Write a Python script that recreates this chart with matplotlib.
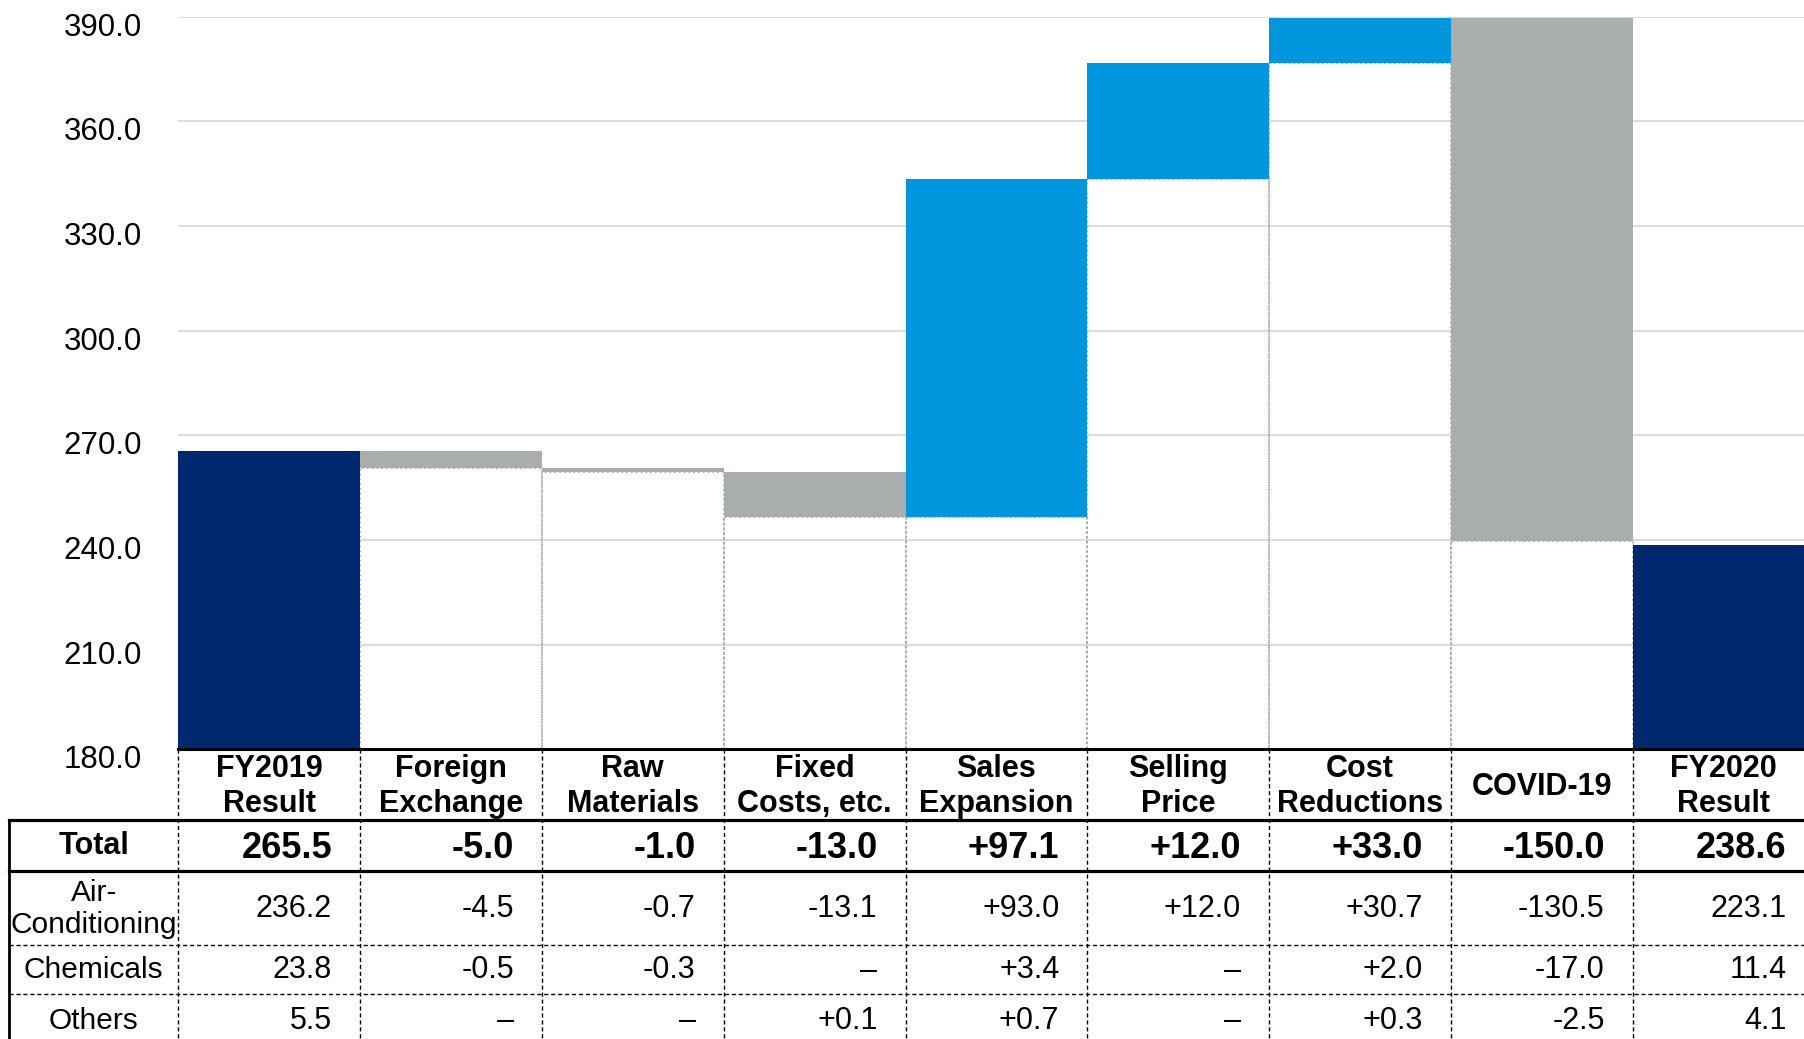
import matplotlib
matplotlib.use("Agg")
import matplotlib.pyplot as plt
from matplotlib import font_manager
from matplotlib.transforms import ScaledTranslation

# chart data
categories = ["FY2019\nResult", "Foreign\nExchange", "Raw\nMaterials", "Fixed\nCosts, etc.",
              "Sales\nExpansion", "Selling\nPrice", "Cost\nReductions", "COVID-19", "FY2020\nResult"]
fy2019 = 265.5
fy2020 = 238.6
# step heights as they are drawn in the chart
bar_steps = [-5.0, -1.0, -13.0, 97.1, 33.0, 13.0, -150.0]
yticks = [180, 210, 240, 270, 300, 330, 360, 390]

# table under the chart
row_names = ["Total", "Air-\nConditioning", "Chemicals", "Others"]
total = [265.5, -5.0, -1.0, -13.0, 97.1, 12.0, 33.0, -150.0, 238.6]
air_cond = [236.2, -4.5, -0.7, -13.1, 93.0, 12.0, 30.7, -130.5, 223.1]
chemicals = [23.8, -0.5, -0.3, None, 3.4, None, 2.0, -17.0, 11.4]
others = [5.5, None, None, 0.1, 0.7, None, 0.3, -2.5, 4.1]

navy = "#00286E"
blue = "#0096DE"
gray = "#AAADAD"

plt.rcParams["font.family"] = "Liberation Sans"
names = {f.name for f in font_manager.fontManager.ttflist}
narrow = "Liberation Sans Narrow" if "Liberation Sans Narrow" in names else "Liberation Sans"

W, H = 1804, 1039
fig = plt.figure(figsize=(W / 100, H / 100), dpi=100)

# main waterfall axes, positions in pixels
x0, col_w = 178.3, 181.8
y_top, y_bot = 16.7, 749.3
ax = fig.add_axes([x0 / W, (H - y_bot) / H, (W - x0) / W, (y_bot - y_top) / H])
ax.set_ylim(180, 390)
ax.set_xlim(-0.5, -0.5 + (W - x0) / col_w)

ax.bar(0, fy2019 - 180, bottom=180, width=1.0, color=navy, zorder=3)
level = fy2019
for i, step in enumerate(bar_steps, start=1):
    lo = min(level, level + step)
    ax.bar(i, lo - 180, bottom=180, width=1.0, fill=False, edgecolor="#A8A8A8",
           linestyle=":", linewidth=1.3, zorder=2)
    ax.bar(i, abs(step), bottom=lo, width=1.0, color=blue if step > 0 else gray,
           linewidth=0, zorder=3)
    level += step
ax.bar(len(categories) - 1, fy2020 - 180, bottom=180, width=1.0, color=navy, zorder=3)

ax.set_axisbelow(True)
ax.yaxis.grid(True, color="#D9D9D9", linewidth=1.3)
for s in ["left", "right", "top"]:
    ax.spines[s].set_visible(False)
ax.spines["bottom"].set_color("black")
ax.spines["bottom"].set_linewidth(2.2)
ax.spines["bottom"].set_zorder(4)
ax.set_xticks([])
ax.set_yticks(yticks, labels=[f"{v:.1f}" for v in yticks])
ax.tick_params(axis="y", length=0, pad=26, labelsize=22.5)
shift = ScaledTranslation(0, -0.075, fig.dpi_scale_trans)
for lbl in ax.get_yticklabels():
    lbl.set_transform(lbl.get_transform() + shift)

# table drawn in pixel coordinates
tab = fig.add_axes([0, 0, 1, 1], zorder=5)
tab.set_xlim(0, W)
tab.set_ylim(H, 0)
tab.axis("off")
tab.patch.set_alpha(0)

edges = [ax.transData.transform((i - 0.5, 180))[0] for i in range(len(categories) + 1)]
left = 9
row_y = [820, 871, 945, 994, 1046]

for e in edges[:-1]:
    tab.plot([e, e], [y_bot, H], color="black", lw=1.0, ls=(0, (3, 2)))
tab.plot([left, left], [row_y[0], H], color="black", lw=2.0)
for y in row_y[:2]:
    tab.plot([left, W], [y, y], color="black", lw=2.3)
for y in row_y[2:4]:
    tab.plot([left, W], [y, y], color="black", lw=1.0, ls=(0, (3, 2)))

for i, name in enumerate(categories):
    cx = (edges[i] + edges[i + 1]) / 2
    tab.text(cx, (y_bot + row_y[0]) / 2 + 2, name, ha="center", va="center",
             fontsize=22, fontweight="bold", linespacing=1.22)


def fmt(v, j):
    if v is None:
        return "\u2013"
    if j == 0 or j == len(categories) - 1:
        return f"{v:.1f}"
    return f"{v:+.1f}"


rows = [total, air_cond, chemicals, others]
label_cx = (left + edges[0]) / 2
for r, (name, vals) in enumerate(zip(row_names, rows)):
    cy = (row_y[r] + row_y[r + 1]) / 2 + 1
    bold = r == 0
    tab.text(label_cx, cy, name, ha="center", va="center", fontsize=22 if bold else 21.5,
             fontweight="bold" if bold else "normal", linespacing=1.15)
    for j, v in enumerate(vals):
        tab.text(edges[j + 1] - 28, cy + (2 if bold else 0), fmt(v, j), ha="right", va="center",
                 family=narrow, fontsize=26 if bold else 22,
                 fontweight="bold" if bold else "normal")

fig.savefig("out.png", dpi=100)
